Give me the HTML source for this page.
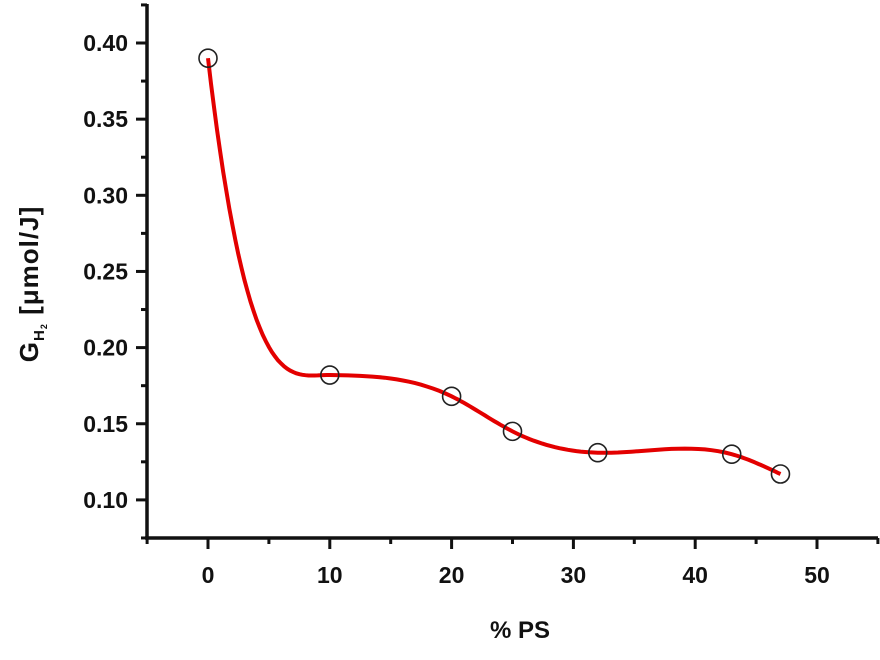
<!DOCTYPE html>
<html><head><meta charset="utf-8"><style>
body{margin:0;background:#fff;}
svg text{font-family:"Liberation Sans",Arial,sans-serif;font-weight:bold;fill:#111;}
</style></head><body>
<svg width="880" height="655">
<g id="axes"></g><g id="plot"></g>
</svg>
<script>
const xs=[0,10,20,25,32,43,47];
const ys=[0.390,0.182,0.168,0.145,0.131,0.130,0.117];
const xTicks=[0,10,20,30,40,50];
const yTicks=[0.10,0.15,0.20,0.25,0.30,0.35,0.40];
const X=v=>208+(v)*12.18;
const Y=v=>43+(0.40-v)*1523;
const NS='http://www.w3.org/2000/svg';
const ax=document.getElementById('axes'),pl=document.getElementById('plot');
function mk(tag,at,p){const e=document.createElementNS(NS,tag);for(const k in at)e.setAttribute(k,at[k]);p.appendChild(e);return e;}
const yl=mk('line',{x1:147,y1:4,x2:147,y2:539,stroke:'#111','stroke-width':3.5},ax);


const xl=mk('line',{x1:145,y1:538,x2:878,y2:538,stroke:'#111','stroke-width':3.5},ax);


yTicks.forEach((t,i)=>{
  mk('line',{x1:136,y1:Y(t),x2:147,y2:Y(t),stroke:'#111','stroke-width':3},ax);
  mk('line',{x1:141,y1:Y(t+0.025),x2:147,y2:Y(t+0.025),stroke:'#111','stroke-width':3},ax);
  const tx=mk('text',{x:128,y:Y(t)+8,'text-anchor':'end','font-size':23},ax);
  tx.textContent=t.toFixed(2);
  
  
});
mk('line',{x1:141,y1:Y(0.075),x2:147,y2:Y(0.075),stroke:'#111','stroke-width':3},ax);
xTicks.forEach(t=>{
  mk('line',{x1:X(t),y1:538,x2:X(t),y2:549,stroke:'#111','stroke-width':3},ax);
  mk('line',{x1:X(t+5),y1:538,x2:X(t+5),y2:544,stroke:'#111','stroke-width':3},ax);
  const tx=mk('text',{x:X(t),y:583,'text-anchor':'middle','font-size':23},ax);
  tx.textContent=t;
  
  
});
mk('line',{x1:X(-5),y1:538,x2:X(-5),y2:544,stroke:'#111','stroke-width':3},ax);
const xt=mk('text',{x:520,y:638,'text-anchor':'middle','font-size':24},ax);
xt.textContent='% PS';


const yt=mk('text',{transform:'translate(38,284) rotate(-90)','text-anchor':'middle','font-size':26,'letter-spacing':1},ax);
yt.innerHTML='G<tspan font-size="15" dy="6">H</tspan><tspan font-size="9" dy="3">2</tspan><tspan dy="-9"> [μmol/J]</tspan>';


// natural cubic spline on points 1..n-1, Hermite first segment
const sx=xs.slice(1),sy=ys.slice(1);
const n=sx.length,h=[],al=[0],l=[1],mu=[0],z=[0],c=new Array(n).fill(0),b=[],d=[];
for(let i=0;i<n-1;i++)h.push(sx[i+1]-sx[i]);
for(let i=1;i<n-1;i++)al.push(3/h[i]*(sy[i+1]-sy[i])-3/h[i-1]*(sy[i]-sy[i-1]));
for(let i=1;i<n-1;i++){l[i]=2*(sx[i+1]-sx[i-1])-h[i-1]*mu[i-1];mu[i]=h[i]/l[i];z[i]=(al[i]-h[i-1]*z[i-1])/l[i];}
for(let j=n-2;j>=0;j--){c[j]=z[j]-mu[j]*c[j+1];b[j]=(sy[j+1]-sy[j])/h[j]-h[j]*(c[j+1]+2*c[j])/3;d[j]=(c[j+1]-c[j])/(3*h[j]);}
let pts=[];
{const h0=xs[1]-xs[0],m0=3.3*(ys[1]-ys[0])/h0,m1=b[0];
 for(let s=0;s<=40;s++){const t=s/40;const h00=2*t*t*t-3*t*t+1,h10=t*t*t-2*t*t+t,h01=-2*t*t*t+3*t*t,h11=t*t*t-t*t;
 const v=h00*ys[0]+h10*h0*m0+h01*ys[1]+h11*h0*m1;pts.push(X(xs[0]+t*h0).toFixed(1)+','+Y(v).toFixed(1));}}
for(let i=0;i<n-1;i++)for(let s=1;s<=20;s++){const t=h[i]*s/20;const v=sy[i]+b[i]*t+c[i]*t*t+d[i]*t*t*t;pts.push(X(sx[i]+t).toFixed(1)+','+Y(v).toFixed(1));}
const cv=mk('polyline',{points:pts.join(' '),fill:'none',stroke:'#e30000','stroke-width':4},pl);


xs.forEach((x,i)=>{
  const p=mk('circle',{cx:X(x),cy:Y(ys[i]),r:9,fill:'none',stroke:'#222','stroke-width':1.6},pl);
  
  
});
</script>
</body></html>
